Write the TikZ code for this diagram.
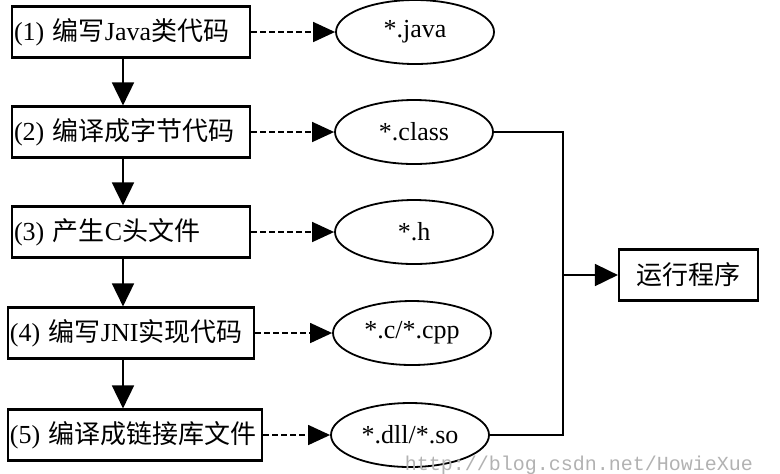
\documentclass[tikz,border=0pt]{standalone}
\usepackage{fontspec}
\setmainfont{Liberation Serif}
\newfontfamily\cjk{Noto Sans CJK SC}
\newfontfamily\wmfont{Liberation Mono}
\usetikzlibrary{arrows.meta, shapes.geometric}

\tikzset{
  stepbox/.style={rectangle, draw=black, line width=1.1pt, inner xsep=1pt, minimum height=25.5pt, align=left, font=\fontsize{13}{15}\selectfont},
  filebox/.style={ellipse, draw=black, line width=0.9pt, inner sep=0pt, minimum width=79pt, minimum height=32pt, font=\fontsize{13}{15}\selectfont},
  flow/.style={line width=0.9pt, -{Triangle[length=11.5pt, width=11pt]}},
  output/.style={line width=0.75pt, dash pattern=on 3pt off 1.5pt, -{Triangle[length=11pt, width=10pt]}},
  bus/.style={line width=0.9pt},
  watermark/.style={text=black!30, font=\wmfont\fontsize{10}{12}\selectfont}
}

\begin{document}
\begin{tikzpicture}[x=0.5pt, y=-0.5pt]

\useasboundingbox (0,0) rectangle (780,473);

\node at (131,32) [stepbox, text width=117pt] (write) {(1) {\cjk 编写}Java{\cjk 类代码}};
\node at (131,132) [stepbox, text width=117pt] (compile) {(2) {\cjk 编译成字节代码}};
\node at (131,232) [stepbox, text width=117pt] (header) {(3) {\cjk 产生}C{\cjk 头文件}};
\node at (131,333) [stepbox, text width=121pt] (impl) {(4) {\cjk 编写}JNI{\cjk 实现代码}};
\node at (135,435) [stepbox, text width=125pt] (link) {(5) {\cjk 编译成链接库文件}};

\node at (415,32) [filebox] (javafile) {*.java};
\node at (414,132) [filebox] (classfile) {*.class};
\node at (414,232) [filebox] (hfile) {*.h};
\node at (412,333) [filebox] (cppfile) {*.c/*.cpp};
\node at (410,435) [filebox] (sofile) {*.dll/*.so};

\node at (688.5,275) [stepbox, text width=67.5pt, align=center] (run) {\cjk 运行程序};

\coordinate (axis) at (123,0);
\coordinate (join) at (563,275);

\draw[flow] (write.south -| axis) -- (compile.north -| axis);
\draw[flow] (compile.south -| axis) -- (header.north -| axis);
\draw[flow] (header.south -| axis) -- (impl.north -| axis);
\draw[flow] (impl.south -| axis) -- (link.north -| axis);

\draw[output] (write.east) -- (javafile.west);
\draw[output] (compile.east) -- (classfile.west);
\draw[output] (header.east) -- (hfile.west);
\draw[output] (impl.east) -- (cppfile.west);
\draw[output] (link.east) -- (sofile.west);

\draw[bus] (classfile.east) -| (join) |- (sofile.east);
\draw[flow] (join) -- (run.west);

\node at (760,470) [watermark, anchor=base east] (mark) {http://blog.csdn.net/HowieXue};

\end{tikzpicture}
\end{document}
